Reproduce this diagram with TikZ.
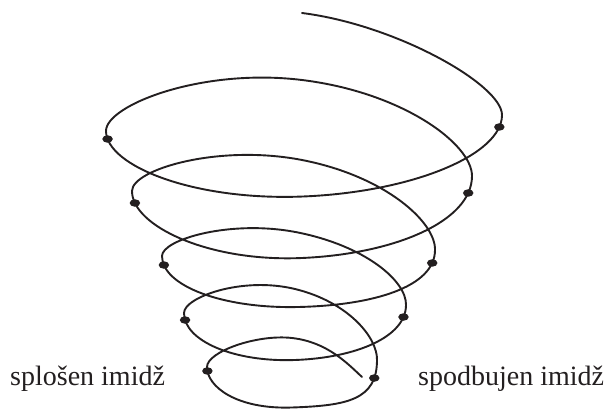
\documentclass[tikz,border=0pt]{standalone}
\usepackage{fontspec}
\setmainfont{Liberation Serif}
\usetikzlibrary{shapes.geometric,intersections}
\definecolor{ink}{RGB}{35,31,32}

\begin{document}
\begin{tikzpicture}[
  x=1pt, y=-1pt,
  spiral/.style={line width=1.9pt, line cap=round, line join=round, draw=ink},
  dot/.style={ellipse, fill=ink, inner sep=0pt, minimum width=10.5pt, minimum height=7.5pt},
  imgtext/.style={anchor=base west, inner sep=0pt, text=ink, font=\fontsize{28}{34}\selectfont}
]
\useasboundingbox (0,0) rectangle (610,409);

% the spiral, one quarter turn per segment, from the open top end inwards
\draw[spiral, name path=spiral] (302,13)
  .. controls (397,25) and (502,85) .. (502,115)
  .. controls (502,155) and (411.9,192.1) .. (303,196.5)
  .. controls (194.1,200.9) and (106.2,166) .. (106,131)
  .. controls (105.8,105.4) and (201.4,67.6) .. (302,80)
  .. controls (402.7,92.4) and (472,144) .. (472,176)
  .. controls (472,221) and (395.5,253.9) .. (302,258)
  .. controls (208.5,262.1) and (132,226) .. (132,191)
  .. controls (132,169.4) and (218.7,143.8) .. (302,160)
  .. controls (385.3,176.2) and (435.8,222.1) .. (435,250)
  .. controls (435,287) and (373.1,305.4) .. (298,307)
  .. controls (222.9,308.7) and (162,286) .. (162,256)
  .. controls (162,239.6) and (230.9,219) .. (298,232.5)
  .. controls (365.1,246) and (406.6,280.8) .. (406,305)
  .. controls (406,337) and (356,357.8) .. (295,360)
  .. controls (234,362.2) and (184,341) .. (184,313)
  .. controls (184,297.4) and (241.9,276.1) .. (295,289)
  .. controls (348.1,301.9) and (377.6,337.5) .. (377,360)
  .. controls (377,400) and (347,405.6) .. (292,407.5)
  .. controls (237,409.4) and (207,387) .. (207,367)
  .. controls (207,351.7) and (257,334) .. (292,338)
  .. controls (327,342) and (347,363) .. (362,377);

% points where each turn passes the left and right side
\foreach \n/\y/\xa/\xb in {r1/127/480/520, r2/193/450/490, r3/263/415/450,
                           r4/317/385/420, r5/378/366/392, l1/139/90/130,
                           l2/203/115/155, l3/265/145/185, l4/320/165/205,
                           l5/371/190/230} {
  \path[name path=cut] (\xa,\y) -- (\xb,\y);
  \path[name intersections={of=spiral and cut, by=p-\n}];
  \node[dot] (\n) at (p-\n) {};
}

\node[imgtext] (general) at (10,385) {splošen imidž};
\node[imgtext] (enhanced) at (418,385) {spodbujen imidž};

\end{tikzpicture}
\end{document}
